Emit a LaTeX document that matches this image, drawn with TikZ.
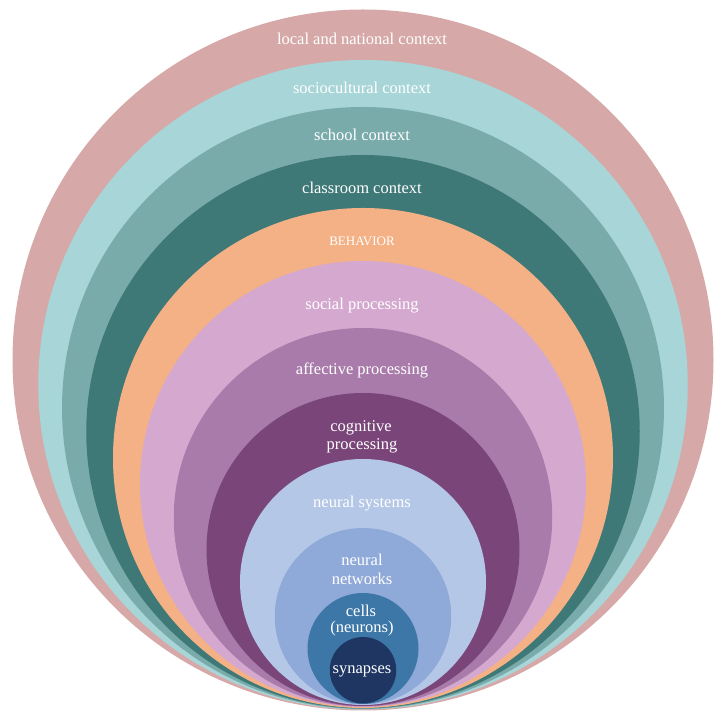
\documentclass[tikz,border=0pt]{standalone}
\usepackage{fontspec}
\setmainfont{Liberation Serif}
\definecolor{cLocal}{HTML}{D6A9A8}
\definecolor{cSocio}{HTML}{A8D5D7}
\definecolor{cSchool}{HTML}{7AABAB}
\definecolor{cClass}{HTML}{3F7977}
\definecolor{cBehav}{HTML}{F3B185}
\definecolor{cSocial}{HTML}{D5A9CF}
\definecolor{cAffect}{HTML}{A97BAA}
\definecolor{cCogn}{HTML}{7A4579}
\definecolor{cNsys}{HTML}{B4C7E7}
\definecolor{cNnet}{HTML}{8FA9D8}
\definecolor{cCells}{HTML}{3D77A7}
\definecolor{cSyn}{HTML}{1F3562}
\begin{document}
\begin{tikzpicture}[x=1pt,y=1pt,
  lbl/.style={text=white, anchor=base, inner sep=0pt, font=\fontsize{16.5}{19}\selectfont},
  sclbl/.style={text=white, anchor=base, inner sep=0pt, font=\fontsize{13}{15}\selectfont}]
\useasboundingbox (0,0) rectangle (724,720);
\fill[white] (0,0) rectangle (724,720);
\fill[cLocal]  (363,360)    circle (350.5);
\fill[cSocio]  (363,335.25) circle (324.75);
\fill[cSchool] (363,312)    circle (301);
\fill[cClass]  (363,288.25) circle (276.75);
\fill[cBehav]  (363,262)    circle (250);
\fill[cSocial] (363,236)    circle (223);
\fill[cAffect] (363,202.75) circle (189.25);
\fill[cCogn]   (363,170.5)  circle (156.5);
\fill[cNsys]   (363,138)    circle (123);
\fill[cNnet]   (363,103.75) circle (88.25);
\fill[cCells]  (363,71.5)   circle (55.5);
\fill[cSyn]    (363,49.75)  circle (33.25);
\node[lbl] (tlocal) at (362,675.7) {local and national context};
\node[lbl] (tsocio) at (362,626.7) {sociocultural context};
\node[lbl] (tschool) at (362,579.3) {school context};
\node[lbl] (tclass) at (362,526) {classroom context};
\node[sclbl] (tbehav) at (362,474) {BEHAVIOR};
\node[lbl] (tsocial) at (362,410.7) {social processing};
\node[lbl] (taffect) at (362,345.7) {affective processing};
\node[lbl] (tcogn1) at (361,288.3) {cognitive};
\node[lbl] (tcogn2) at (362,270.7) {processing};
\node[lbl] (tnsys) at (362,212) {neural systems};
\node[lbl] (tnnet1) at (362,154) {neural};
\node[lbl] (tnnet2) at (362,135) {networks};
\node[lbl] (tcells1) at (361,103.5) {cells};
\node[lbl] (tcells2) at (362,87) {(neurons)};
\node[lbl] (tsyn) at (362,46.7) {synapses};
\end{tikzpicture}
\end{document}
